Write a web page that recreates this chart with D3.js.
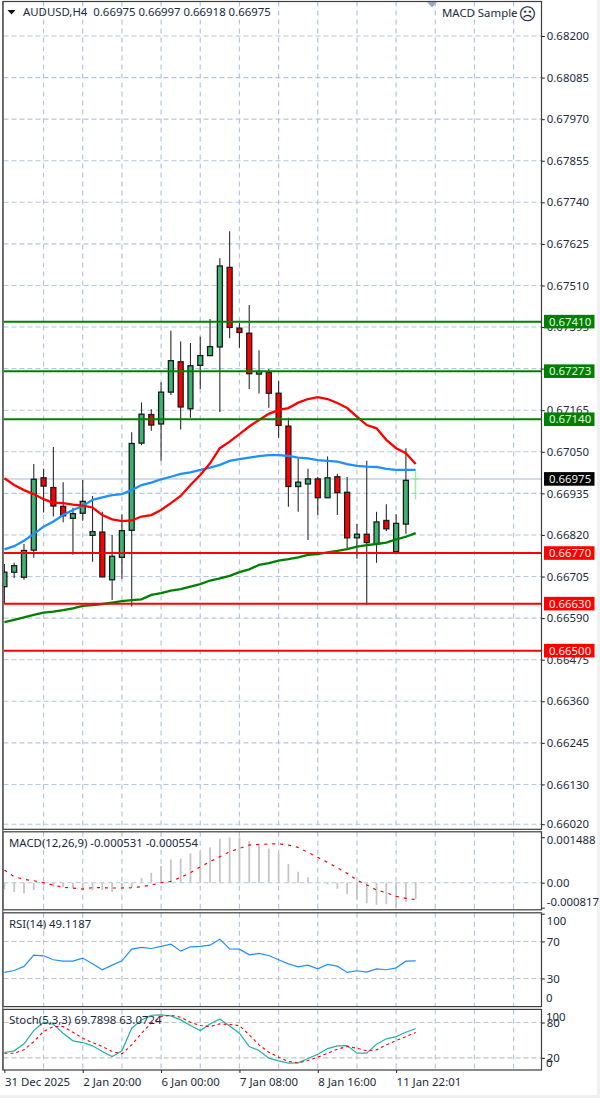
<!DOCTYPE html>
<html><head><meta charset="utf-8">
<script src="https://cdn.jsdelivr.net/npm/d3@7"></script>
<style>
html,body{margin:0;padding:0;background:#fff}
svg{display:block}
text{font-family:"Noto Sans","Liberation Sans",sans-serif;font-size:11.4px;fill:#1c2b3c}
</style></head><body>
<svg id="c" width="600" height="1098"></svg>
<script>
const opens=[0.66677,0.66717,0.66703,0.66778,0.66978,0.66951,0.66899,0.66866,0.66880,0.66819,0.66828,0.66696,0.66758,0.66833,0.67074,0.67153,0.67127,0.67215,0.67299,0.67169,0.67289,0.67316,0.67340,0.67560,0.67392,0.67378,0.67265,0.67270,0.67212,0.67121,0.66954,0.66961,0.66975,0.66923,0.66981,0.66938,0.66812,0.66822,0.66795,0.66860,0.66774,0.66850,0.66975];
const highs=[0.66740,0.66743,0.66795,0.67016,0.67003,0.67063,0.66966,0.66895,0.66972,0.66928,0.66884,0.66820,0.66877,0.67104,0.67186,0.67168,0.67242,0.67385,0.67355,0.67351,0.67368,0.67417,0.67585,0.67660,0.67406,0.67456,0.67331,0.67279,0.67246,0.67144,0.67032,0.67003,0.66981,0.67037,0.66989,0.66980,0.66850,0.67025,0.66884,0.66905,0.66877,0.67060,0.66997];
const lows=[0.66632,0.66701,0.66696,0.66757,0.66882,0.66871,0.66855,0.66765,0.66859,0.66746,0.66704,0.66640,0.66699,0.66622,0.67068,0.67108,0.67025,0.67207,0.67112,0.67144,0.67224,0.67316,0.67160,0.67364,0.67338,0.67224,0.67211,0.67172,0.67089,0.66898,0.66884,0.66806,0.66875,0.66923,0.66875,0.66783,0.66754,0.66626,0.66743,0.66831,0.66773,0.66823,0.66918];
const closes=[0.66717,0.66735,0.66777,0.66974,0.66955,0.66900,0.66873,0.66879,0.66913,0.66829,0.66704,0.66761,0.66832,0.67073,0.67154,0.67124,0.67215,0.67302,0.67174,0.67288,0.67316,0.67341,0.67564,0.67394,0.67380,0.67266,0.67272,0.67212,0.67123,0.66954,0.66966,0.66975,0.66923,0.66978,0.66937,0.66812,0.66822,0.66799,0.66856,0.66837,0.66852,0.66971,0.66975];
const maRed=[0.66977,0.66958,0.66944,0.66933,0.66919,0.66909,0.66908,0.66904,0.66901,0.66896,0.66875,0.66863,0.66858,0.66860,0.66871,0.66875,0.66889,0.66908,0.66928,0.66958,0.66986,0.67018,0.67060,0.67078,0.67099,0.67120,0.67138,0.67155,0.67166,0.67171,0.67186,0.67196,0.67201,0.67196,0.67185,0.67171,0.67147,0.67124,0.67115,0.67083,0.67060,0.67046,0.67016];
const maBlue=[0.66780,0.66789,0.66804,0.66823,0.66843,0.66857,0.66875,0.66889,0.66900,0.66917,0.66924,0.66930,0.66933,0.66944,0.66958,0.66965,0.66974,0.66981,0.66989,0.66993,0.67000,0.67006,0.67014,0.67025,0.67030,0.67034,0.67038,0.67041,0.67041,0.67039,0.67034,0.67032,0.67027,0.67025,0.67023,0.67016,0.67011,0.67009,0.67008,0.67003,0.67000,0.67000,0.67000];
const maGreen=[0.66579,0.66585,0.66592,0.66599,0.66605,0.66608,0.66612,0.66617,0.66624,0.66626,0.66629,0.66633,0.66637,0.66640,0.66642,0.66654,0.66659,0.66666,0.66670,0.66677,0.66684,0.66694,0.66700,0.66707,0.66717,0.66725,0.66737,0.66742,0.66749,0.66753,0.66758,0.66765,0.66767,0.66772,0.66776,0.66781,0.66788,0.66792,0.66795,0.66799,0.66808,0.66815,0.66825];
const macdHist=[-218,-305,-348,-240,-76,-131,-152,-185,-218,-240,-240,-305,-218,-152,163,327,545,762,795,958,1000,1154,1448,1481,1481,1361,1231,1122,958,610,359,174,33,-54,-196,-381,-566,-675,-719,-708,-806,-621,-545];
const macdSignal=[414,196,109,65,0,-76,-152,-174,-207,-163,-163,-174,-174,-163,-131,-76,0,44,174,327,523,686,849,1013,1122,1231,1252,1263,1274,1231,1154,991,828,664,490,305,87,-76,-240,-327,-447,-512,-554];
const rsi=[36.5,38.6,43,55.2,54.5,50.2,48.7,48.7,52,45.8,39.4,44.4,49.1,61.7,63.5,62.4,64.6,67.1,59.5,64.2,64.6,66,72.5,62,61.7,55.6,57,54.8,50.2,45.8,42.6,44.4,40.4,45.1,43.3,36.5,38.3,36.8,40.4,39.4,41.5,48.7,49.1];
const stochMain=[29.1,31.9,43.8,66.4,80.6,77.2,61.9,48.9,46,40.4,30.8,22.3,31.9,70.4,84.5,92.4,93,91.3,84.5,74.9,66.4,77.7,86.2,74.3,61.9,39.2,32.5,19.4,14.9,10.9,11.5,18.9,26.2,35.8,40.4,40.9,27.9,27.9,43.2,52.3,56.2,63.6,69.8];
const stochSignal=[27.9,27.9,33.6,47.7,64.7,73.2,73.2,63.6,53.4,46,39.2,30.8,26.8,42.1,61.9,78.9,90.2,92.4,89.1,80.6,74.9,73.2,77.7,76.6,74.9,59.1,42.1,29.6,21.1,13.8,11.5,15.5,21.1,27.9,34.7,39.2,36.4,31.9,33.6,42.1,49.4,56.2,63.1];
const priceTicks=[0.682,0.68085,0.6797,0.67855,0.6774,0.67625,0.6751,0.67395,0.6728,0.67165,0.6705,0.66935,0.6682,0.66705,0.66590,0.66475,0.6636,0.66245,0.6613,0.6602];
const greenLevels=[0.6741,0.67273,0.6714];
const redLevels=[0.6677,0.6663,0.665];
const currentPrice=0.66975;
const timeLabels=[[0,"31 Dec 2025"],[8,"2 Jan 20:00"],[16,"6 Jan 00:00"],[24,"7 Jan 08:00"],[32,"8 Jan 16:00"],[40,"11 Jan 22:01"]];
const gridBars=[4,8,12,16,20,24,28,32,36,40,44,48,52];

const svg=d3.select("#c");
const idx=d3.range(opens.length);
const L=3.5,R=541.5;
const x=d3.scaleLinear().domain([0,42]).range([4.4,415.7]);
const yP=d3.scaleLinear().domain([0.682,0.6602]).range([36,824.2]);
const yM=d3.scaleLinear().domain([0,0.001488]).range([882.7,837.2]);
const yR=d3.scaleLinear().domain([0,100]).range([1006.2,913.7]);
const yS=d3.scaleLinear().domain([0,100]).range([1069.6,1010.8]);
const panels=[[1.5,829.3],[831.8,909.8],[912.8,1006.6],[1009.4,1070]];
const GRID="#b4c6df";

svg.append("rect").attr("x",0).attr("y",1095).attr("width",600).attr("height",3).attr("fill","#f0f0f0");
svg.append("rect").attr("x",597).attr("y",0).attr("width",3).attr("height",1098).attr("fill","#f0f0f0");

const defs=svg.append("defs");
panels.forEach((p,i)=>defs.append("clipPath").attr("id","clip"+i).append("rect").attr("x",L).attr("y",p[0]).attr("width",R-L).attr("height",p[1]-p[0]));

// vertical grid
panels.forEach(p=>{
  svg.append("g").selectAll("line").data(gridBars).join("line")
    .attr("x1",d=>x(d)).attr("x2",d=>x(d)).attr("y1",p[0]).attr("y2",p[1])
    .attr("stroke",GRID).attr("stroke-width",1.2).attr("stroke-dasharray","5 4");
});
// horizontal grid
function hgrid(vals,sc,col){
  svg.append("g").selectAll("line").data(vals).join("line")
    .attr("x1",L).attr("x2",R).attr("y1",d=>sc(d)).attr("y2",d=>sc(d))
    .attr("stroke",col).attr("stroke-width",1.1).attr("stroke-dasharray","5 3");
}
hgrid(priceTicks,yP,GRID);
hgrid([0],yM,GRID);
hgrid([70,30],yR,"#c4c4c4");
hgrid([80,20],yS,"#c4c4c4");

// main panel
const main=svg.append("g").attr("clip-path","url(#clip0)");
main.append("line").attr("x1",L).attr("x2",R).attr("y1",yP(currentPrice)).attr("y2",yP(currentPrice)).attr("stroke","#c3d0e0").attr("stroke-width",1.5);
const bars=idx.slice(0,42);
main.append("g").selectAll("line").data(bars).join("line")
  .attr("x1",i=>x(i)).attr("x2",i=>x(i)).attr("y1",i=>yP(highs[i])).attr("y2",i=>yP(lows[i]))
  .attr("stroke","#2b2b2b").attr("stroke-width",1.1);
main.append("g").selectAll("rect").data(bars).join("rect")
  .attr("x",i=>x(i)-2.5).attr("width",5)
  .attr("y",i=>yP(Math.max(opens[i],closes[i])))
  .attr("height",i=>Math.abs(yP(opens[i])-yP(closes[i])))
  .attr("fill",i=>closes[i]>=opens[i]?"#3cb371":"#ff0000")
  .attr("stroke","#1a1a1a").attr("stroke-width",1.3);
// current forming bar
const last=42;
main.append("line").attr("x1",x(last)).attr("x2",x(last)).attr("y1",yP(highs[last])).attr("y2",yP(lows[last])).attr("stroke","#66ff66").attr("stroke-width",1);
main.append("line").attr("x1",x(last)-3).attr("x2",x(last)+3).attr("y1",yP(closes[last])).attr("y2",yP(closes[last])).attr("stroke","#66ff66").attr("stroke-width",1);

const lineP=d3.line().x((d,i)=>x(i)).y(d=>yP(d));
[[maGreen,"#008000"],[maBlue,"#1e90ff"],[maRed,"#ff0000"]].forEach(([d,c])=>{
  main.append("path").attr("d",lineP(d)).attr("fill","none").attr("stroke",c).attr("stroke-width",2.3);
});
[[greenLevels,"#008000"],[redLevels,"#ff0000"]].forEach(([d,c])=>{
  main.append("g").selectAll("line").data(d).join("line")
    .attr("x1",L).attr("x2",R).attr("y1",v=>yP(v)).attr("y2",v=>yP(v))
    .attr("stroke",c).attr("stroke-width",2);
});

// MACD
const pm=svg.append("g").attr("clip-path","url(#clip1)");
pm.append("g").selectAll("line").data(idx).join("line")
  .attr("x1",i=>x(i)).attr("x2",i=>x(i)).attr("y1",yM(0)).attr("y2",i=>yM(macdHist[i]*1e-6))
  .attr("stroke","#c6c6c6").attr("stroke-width",1.8);
pm.append("path").attr("d",d3.line().x((d,i)=>x(i)).y(d=>yM(d*1e-6))(macdSignal))
  .attr("fill","none").attr("stroke","#ff0000").attr("stroke-width",1.2).attr("stroke-dasharray","3 5");

// RSI
svg.append("g").attr("clip-path","url(#clip2)").append("path")
  .attr("d",d3.line().x((d,i)=>x(i)).y(d=>yR(d))(rsi))
  .attr("fill","none").attr("stroke","#1e90ff").attr("stroke-width",1.2);

// Stoch
const ps=svg.append("g").attr("clip-path","url(#clip3)");
ps.append("path").attr("d",d3.line().x((d,i)=>x(i)).y(d=>yS(d))(stochMain))
  .attr("fill","none").attr("stroke","#20b2aa").attr("stroke-width",1.2);
ps.append("path").attr("d",d3.line().x((d,i)=>x(i)).y(d=>yS(d))(stochSignal))
  .attr("fill","none").attr("stroke","#ff0000").attr("stroke-width",1.1).attr("stroke-dasharray","3 3");

// frames
panels.forEach(p=>{
  svg.append("rect").attr("x",L-0.5).attr("y",p[0]).attr("width",R-L+0.5).attr("height",p[1]-p[0])
    .attr("fill","none").attr("stroke","#3d3d3d").attr("stroke-width",1.2);
});
svg.append("line").attr("x1",L-0.7).attr("x2",L-0.7).attr("y1",1.5).attr("y2",1070).attr("stroke","#5a5a5a").attr("stroke-width",1.2);

// axes via d3
function rightAxis(sc,ticks,fmt,labelShift){
  const g=svg.append("g").attr("transform",`translate(${R+0.3},0)`)
    .call(d3.axisRight(sc).tickValues(ticks).tickFormat(fmt).tickSizeOuter(0).tickSize(3).tickPadding(2));
  g.select(".domain").remove();
  g.selectAll(".tick line").attr("stroke","#222");
  g.selectAll("text").attr("font-family",null).attr("font-size",null);
  if(labelShift) g.selectAll(".tick text").attr("y",d=>labelShift(d)||0);
  return g;
}
rightAxis(yP,priceTicks,d=>d.toFixed(5));
rightAxis(yM,[0.001488,0,-0.000817],d=>d===0?"0.00":d.toFixed(6),d=>d>0?2.8:(d<0?-5.5:0));
rightAxis(yR,[100,70,30],d=>d,d=>d===100?7:0);
rightAxis(yS,[80,20],d=>d);
// edge labels placed inside the window, as the platform does
[[yR(0)-8,"0"],[1017.5,"100"],[1063,"0"]].forEach(([yy,t])=>svg.append("text").attr("x",546).attr("y",yy).attr("dy","0.32em").text(t));

// level tags (over the tick labels)
function tag(v,bg){
  const yy=yP(v);
  svg.append("rect").attr("x",544).attr("y",yy-6.8).attr("width",50.5).attr("height",13.6).attr("fill",bg);
  svg.append("text").attr("x",549).attr("y",yy).attr("dy","0.34em").style("fill","#e8f5e8").text(v.toFixed(5));
}
greenLevels.forEach(v=>tag(v,"#008000"));
redLevels.forEach(v=>tag(v,"#ff0000"));
tag(currentPrice,"#000000");

// time axis
const gt=svg.append("g").attr("transform","translate(0,1070)")
  .call(d3.axisBottom(x).tickValues(timeLabels.map(d=>d[0])).tickSize(3).tickSizeOuter(0).tickPadding(4.5)
    .tickFormat(d=>timeLabels.find(t=>t[0]===d)[1]));
gt.select(".domain").remove();
gt.selectAll(".tick line").attr("stroke","#222");
gt.selectAll("text").attr("font-family",null).attr("font-size",null).attr("text-anchor","start");

// titles
svg.append("path").attr("d",d3.line()([[7.5,10],[15.5,10],[11.5,14.5]])+"Z").attr("fill","#111");
svg.append("text").attr("x",23).attr("y",12).attr("dy","0.34em").attr("xml:space","preserve").text("AUDUSD,H4  0.66975 0.66997 0.66918 0.66975");
svg.append("text").attr("x",442).attr("y",13).attr("dy","0.34em").text("MACD Sample");
svg.append("text").attr("x",527.7).attr("y",14).attr("dy","0.36em").attr("text-anchor","middle").style("font-family","DejaVu Sans").style("font-size","17px").text("\u2639");
svg.append("path").attr("d",d3.line()([[427,2],[437,2],[432,7.5]])+"Z").attr("fill","#8faacb");
svg.append("text").attr("x",9).attr("y",843).attr("dy","0.34em").text("MACD(12,26,9) -0.000531 -0.000554");
svg.append("text").attr("x",9).attr("y",924).attr("dy","0.34em").text("RSI(14) 49.1187");
svg.append("text").attr("x",9).attr("y",1020).attr("dy","0.34em").text("Stoch(5,3,3) 69.7898 63.0724");
</script>
</body></html>
